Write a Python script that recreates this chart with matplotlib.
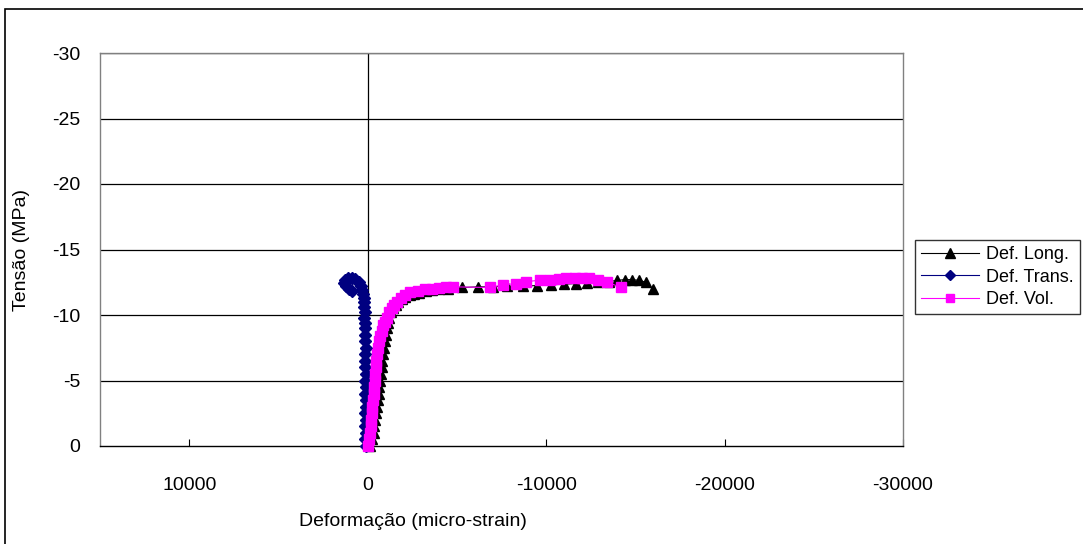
import matplotlib
matplotlib.use("Agg")
import matplotlib.pyplot as plt
from matplotlib.patches import Rectangle

plt.rcParams['font.family'] = ['Liberation Sans', 'DejaVu Sans']
plt.rcParams['axes.unicode_minus'] = False

# Deformação longitudinal (micro-strain) x tensão (MPa)
long_strain = [-150, -250, -330, -380, -430, -480, -530, -570, -610, -660, -700, -740, -780, -820,
               -860, -900, -950, -1000, -1060, -1120, -1200, -1300, -1420, -1560, -1720, -1900,
               -2100, -2350, -2600, -2900, -3250, -3600, -4000, -4500, -5300, -6200, -7000, -7800,
               -8700, -9500, -10300, -11000, -11700, -12300, -12900, -13500, -14000, -14400,
               -14800, -15200, -15600, -16000]
long_stress = [0, -0.5, -1.0, -1.5, -2.0, -2.5, -3.0, -3.5, -4.0, -4.5, -5.0, -5.5, -6.0, -6.5,
               -7.0, -7.5, -8.0, -8.5, -9.0, -9.4, -9.8, -10.2, -10.5, -10.8, -11.0, -11.2,
               -11.35, -11.5, -11.6, -11.7, -11.8, -11.9, -11.95, -12.0, -12.1, -12.15, -12.15, -12.2,
               -12.2, -12.25, -12.3, -12.35, -12.4, -12.45, -12.5, -12.55, -12.65, -12.7,
               -12.7, -12.65, -12.5, -11.95]

# Deformação transversal
trans_strain = [110, 130, 100, 140, 110, 150, 120, 100, 140, 120, 150, 110, 140, 130, 160, 120,
                150, 140, 170, 150, 180, 160, 190, 200, 230, 260, 300, 380, 500, 700, 900, 1100,
                1250, 1300, 1200, 1050, 900]
trans_stress = [0, -0.5, -1.0, -1.5, -2.0, -2.5, -3.0, -3.5, -4.0, -4.5, -5.0, -5.5, -6.0, -6.5,
                -7.0, -7.5, -8.0, -8.5, -9.0, -9.4, -9.8, -10.2, -10.6, -11.0, -11.3, -11.6,
                -11.9, -12.2, -12.5, -12.75, -12.85, -12.8, -12.65, -12.45, -12.2, -12.0, -11.8]

# Deformação volumétrica
vol_strain = [0, -60, -110, -160, -200, -240, -270, -300, -330, -360, -390, -420, -450, -490,
              -530, -580, -640, -700, -780, -860, -950, -1060, -1200, -1350, -1500, -1650,
              -1850, -2100, -2400, -2800, -3200, -3600, -4000, -4400, -4760, -6830, -7570,
              -8340, -8900, -9630, -10200, -10700, -11140, -11600, -12000, -12430, -12900,
              -13440, -14200]
vol_stress = [0, -0.5, -1.0, -1.5, -2.0, -2.5, -3.0, -3.5, -4.0, -4.5, -5.0, -5.5, -6.0, -6.5,
              -7.0, -7.5, -8.0, -8.4, -8.8, -9.2, -9.5, -9.8, -10.2, -10.5, -10.8, -11.0,
              -11.3, -11.55, -11.75, -11.85, -11.95, -12.0, -12.05, -12.1, -12.15, -12.1, -12.3,
              -12.4, -12.55, -12.65, -12.7, -12.75, -12.8, -12.85, -12.85, -12.8, -12.7,
              -12.5, -12.1]

x_ticks = [10000, 0, -10000, -20000, -30000]
y_ticks = [0, -5, -10, -15, -20, -25, -30]

W, H = 1083, 544
fig = plt.figure(figsize=(W / 100, H / 100), dpi=100)
ax = fig.add_axes([100 / W, 1 - 446 / H, 803 / W, 393 / H])

# moldura externa do gráfico
fig.patches.append(Rectangle((5 / W, -0.1), 1.2, 1.1 - 9 / H, transform=fig.transFigure,
                             fill=False, edgecolor='black', linewidth=1.2))

for y in y_ticks[1:]:
    ax.axhline(y, color='black', linewidth=0.9, zorder=1)
ax.axvline(0, color='black', linewidth=0.9, zorder=1)

ax.plot(long_strain, long_stress, color='black', linewidth=0.8, marker='^', markersize=7.5,
        label='Def. Long.', zorder=3, clip_on=False)
ax.plot(trans_strain, trans_stress, color='#000080', linewidth=0.8, marker='D', markersize=6,
        label='Def. Trans.', zorder=4, clip_on=False)
ax.plot(vol_strain, vol_stress, color='#FF00FF', linewidth=0.8, marker='s', markersize=7,
        label='Def. Vol.', zorder=5, clip_on=False)

ax.set_xlim(15000, -30000)
ax.set_ylim(0, -30)
ax.set_xticks(x_ticks)
ax.set_xticklabels([str(v) for v in x_ticks])
ax.set_yticks(y_ticks)
ax.set_yticklabels([str(v) for v in y_ticks])

for side in ['left', 'top', 'right']:
    ax.spines[side].set_color('#808080')
    ax.spines[side].set_linewidth(1.0)
ax.spines['bottom'].set_color('black')
ax.spines['bottom'].set_linewidth(1.0)

ax.tick_params(axis='x', direction='in', length=5, width=0.8, pad=22, labelsize=14)
ax.tick_params(axis='y', length=0, pad=14, labelsize=14)

fig.text(413 / W, 1 - 521 / H, 'Deformação (micro-strain)', ha='center', va='center', fontsize=14)
fig.text(22 / W, 1 - 250 / H, 'Tensão (MPa)', ha='center', va='center', rotation=90, fontsize=14)

leg = fig.legend(loc='upper left', bbox_to_anchor=(915 / W, 1 - 240 / H), frameon=True,
                 fancybox=False, fontsize=13, handlelength=3.2, handletextpad=0.4,
                 labelspacing=0.3, borderpad=0.35, borderaxespad=0, markerscale=0.9)
leg.get_frame().set_edgecolor('black')
leg.get_frame().set_linewidth(1.0)

fig.savefig('out.png', dpi=100)
